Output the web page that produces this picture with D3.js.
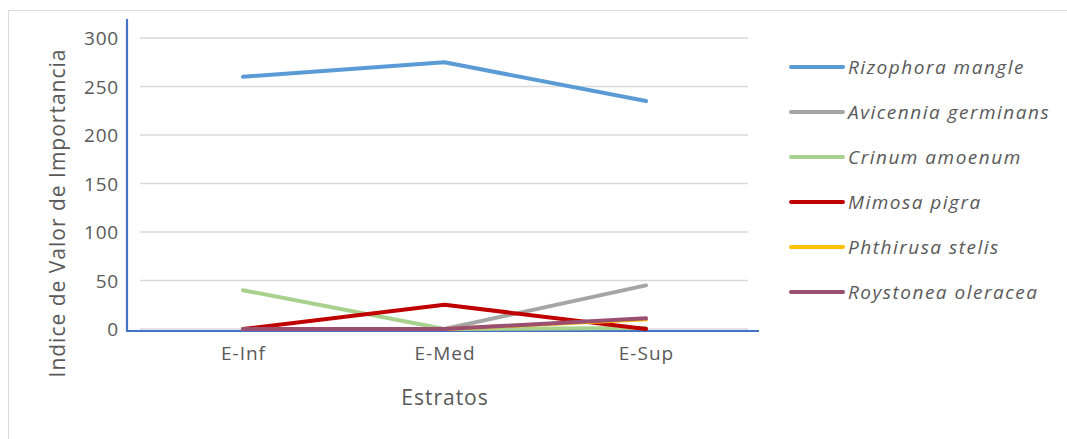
<!DOCTYPE html>
<html lang="es">
<head>
<meta charset="utf-8">
<title>Indice de Valor de Importancia</title>
<script src="https://cdn.jsdelivr.net/npm/d3@7"></script>
<style>
  body { margin: 0; background: #fff; }
  text { font-family: "Open Sans", "Liberation Sans", sans-serif; fill: #595959; }
  .grid line { stroke: #d9d9d9; stroke-width: 1.3; }
  .series { fill: none; stroke-width: 4; stroke-linecap: round; stroke-linejoin: round; }
</style>
</head>
<body>
<script>
// categories and tick labels
var estratos = ["E-Inf", "E-Med", "E-Sup"];
var yTicks = [0, 50, 100, 150, 200, 250, 300];

// species (legend order) and their colours
var especies = ["Rizophora mangle", "Avicennia germinans", "Crinum amoenum",
                "Mimosa pigra", "Phthirusa stelis", "Roystonea oleracea"];
var colores = ["#5b9bd5", "#a5a5a5", "#a9d18e", "#c00000", "#ffc000", "#994f71"];

// values per species, one per stratum
var rizophora = [260, 275, 235];
var avicennia = [0, 0, 45];
var crinum = [40, 0, 1];
var mimosa = [0, 25, 0];
var phthirusa = [0, 0, 10];
var roystonea = [0, 0, 11];

var valores = [rizophora, avicennia, crinum, mimosa, phthirusa, roystonea];

var w = 1067, h = 439;

var svg = d3.select("body").append("svg")
  .attr("width", w).attr("height", h);

// outer frame
svg.append("rect")
  .attr("x", 8.5).attr("y", 10.5)
  .attr("width", 1070).attr("height", 440)
  .attr("fill", "none").attr("stroke", "#d9d9d9").attr("stroke-width", 1);

var xScale = d3.scalePoint()
  .domain(estratos)
  .range([243, 646]);

var yScale = d3.scaleLinear()
  .domain([0, 300])
  .range([329, 38]);

// gridlines
svg.append("g")
  .attr("class", "grid")
  .selectAll("line")
  .data(yTicks)
  .enter().append("line")
  .attr("x1", 140).attr("x2", 748)
  .attr("y1", function(d){ return yScale(d); })
  .attr("y2", function(d){ return yScale(d); });

// y axis (tick labels only)
var yAxis = d3.axisLeft(yScale).tickValues(yTicks).tickSize(0).tickPadding(0);
var gy = svg.append("g")
  .attr("transform", "translate(119,0)")
  .call(yAxis);
gy.select(".domain").remove();
gy.selectAll("text")
  .style("font-size", "19px")
  .style("letter-spacing", "0.8px")
  .attr("fill", "#595959")
  .attr("dy", "0.35em");

// x axis labels
var xAxis = d3.axisBottom(xScale).tickSize(0).tickPadding(0);
var gx = svg.append("g")
  .attr("transform", "translate(0,346)")
  .call(xAxis);
gx.select(".domain").remove();
gx.selectAll("text")
  .style("font-size", "19px")
  .style("letter-spacing", "1px")
  .attr("fill", "#595959");

// axis lines (blue)
svg.append("line")
  .attr("x1", 127).attr("x2", 127)
  .attr("y1", 19).attr("y2", 332)
  .attr("stroke", "#4472c4").attr("stroke-width", 2.2);
svg.append("line")
  .attr("x1", 126).attr("x2", 759)
  .attr("y1", 331).attr("y2", 331)
  .attr("stroke", "#4472c4").attr("stroke-width", 2.2);

// series lines
var line = d3.line()
  .x(function(d, i){ return xScale(estratos[i]); })
  .y(function(d){ return yScale(d); });

svg.selectAll(".series")
  .data(valores)
  .enter().append("path")
  .attr("class", "series")
  .attr("stroke", function(d, i){ return colores[i]; })
  .attr("d", line);

// axis titles
svg.append("text")
  .attr("transform", "translate(65,213) rotate(-90)")
  .attr("text-anchor", "middle")
  .style("font-size", "21px")
  .style("letter-spacing", "1px")
  .text("Indice de Valor de Importancia");

svg.append("text")
  .attr("x", 445).attr("y", 405)
  .attr("text-anchor", "middle")
  .style("font-size", "21px")
  .style("letter-spacing", "1px")
  .text("Estratos");

// legend
var legend = svg.selectAll(".leg")
  .data(especies)
  .enter().append("g")
  .attr("class", "leg")
  .attr("transform", function(d, i){ return "translate(0," + (67 + i * 45) + ")"; });

legend.append("line")
  .attr("x1", 791).attr("x2", 843)
  .attr("y1", 0).attr("y2", 0)
  .attr("stroke", function(d, i){ return colores[i]; })
  .attr("stroke-width", 4)
  .attr("stroke-linecap", "round");

legend.append("text")
  .attr("x", 848).attr("y", 0)
  .attr("dy", "0.35em")
  .style("font-size", "19px")
  .style("font-style", "italic")
  .style("letter-spacing", "1.5px")
  .text(function(d){ return d; });
</script>
</body>
</html>
